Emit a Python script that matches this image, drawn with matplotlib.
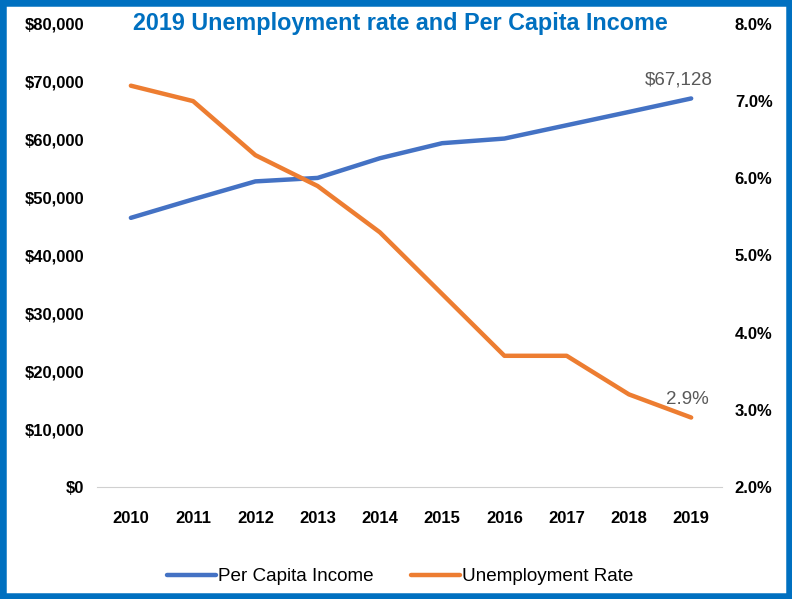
import matplotlib.pyplot as plt
from matplotlib.patches import Rectangle
from matplotlib.ticker import FuncFormatter

years = ['2010', '2011', '2012', '2013', '2014', '2015', '2016', '2017', '2018', '2019']
income = [46500, 49700, 52800, 53400, 56800, 59400, 60200, 62500, 64800, 67128]
unemp = [7.2, 7.0, 6.3, 5.9, 5.3, 4.5, 3.7, 3.7, 3.2, 2.9]

plt.rcParams['font.family'] = ['Liberation Sans', 'DejaVu Sans']

blue = '#4472C4'
orange = '#ED7D31'

fig = plt.figure(figsize=(7.92, 5.99), dpi=100)
ax = fig.add_axes([0.122, 0.187, 0.79, 0.773])
ax2 = ax.twinx()

x = list(range(len(years)))
l1, = ax.plot(x, income, color=blue, lw=3.2, solid_capstyle='round', label='Per Capita Income')
l2, = ax2.plot(x, unemp, color=orange, lw=3.2, solid_capstyle='round', label='Unemployment Rate')

ax.set_ylim(0, 80000)
ax.set_yticks(range(0, 80001, 10000))
ax.yaxis.set_major_formatter(FuncFormatter(lambda v, p: f'${v:,.0f}'))
ax2.set_ylim(2, 8)
ax2.set_yticks([2, 3, 4, 5, 6, 7, 8])
ax2.yaxis.set_major_formatter(FuncFormatter(lambda v, p: f'{v:.1f}%'))
ax.set_xlim(-0.55, 9.5)
ax.set_xticks(x)
ax.set_xticklabels(years)

for a in (ax, ax2):
    for s in a.spines.values():
        s.set_visible(False)
    a.tick_params(length=0, labelsize=12)
    for lab in a.get_yticklabels() + a.get_xticklabels():
        lab.set_fontweight('bold')
ax.spines['bottom'].set_visible(True)
ax.spines['bottom'].set_color('#d0d0d0')
ax.tick_params(axis='y', pad=9)
ax.tick_params(axis='x', pad=17)
ax2.tick_params(axis='y', pad=9)

# data labels on the last point
ax.annotate(f'${income[-1]:,}', (x[-1], income[-1]), xytext=(-9, 10), ha='center',
            textcoords='offset points', fontsize=13.5, color='#595959')
ax2.annotate(f'{unemp[-1]}%', (x[-1], unemp[-1]), xytext=(-3, 10), ha='center',
             textcoords='offset points', fontsize=13.5, color='#595959')

fig.text(0.505, 0.96, '2019 Unemployment rate and Per Capita Income', ha='center', va='center',
         fontsize=16.8, fontweight='bold', color='#0070C0')

fig.legend([l1, l2], ['Per Capita Income', 'Unemployment Rate'], loc='center',
           bbox_to_anchor=(0.505, 0.037), ncol=2, frameon=False, fontsize=13.6,
           handlelength=2.6, columnspacing=2.0, handletextpad=0.1)

fig.patches.append(Rectangle((0, 0), 1, 1, transform=fig.transFigure, fill=False,
                             edgecolor='#0070C0', lw=9, zorder=10))

fig.savefig('out.png', dpi=100)
